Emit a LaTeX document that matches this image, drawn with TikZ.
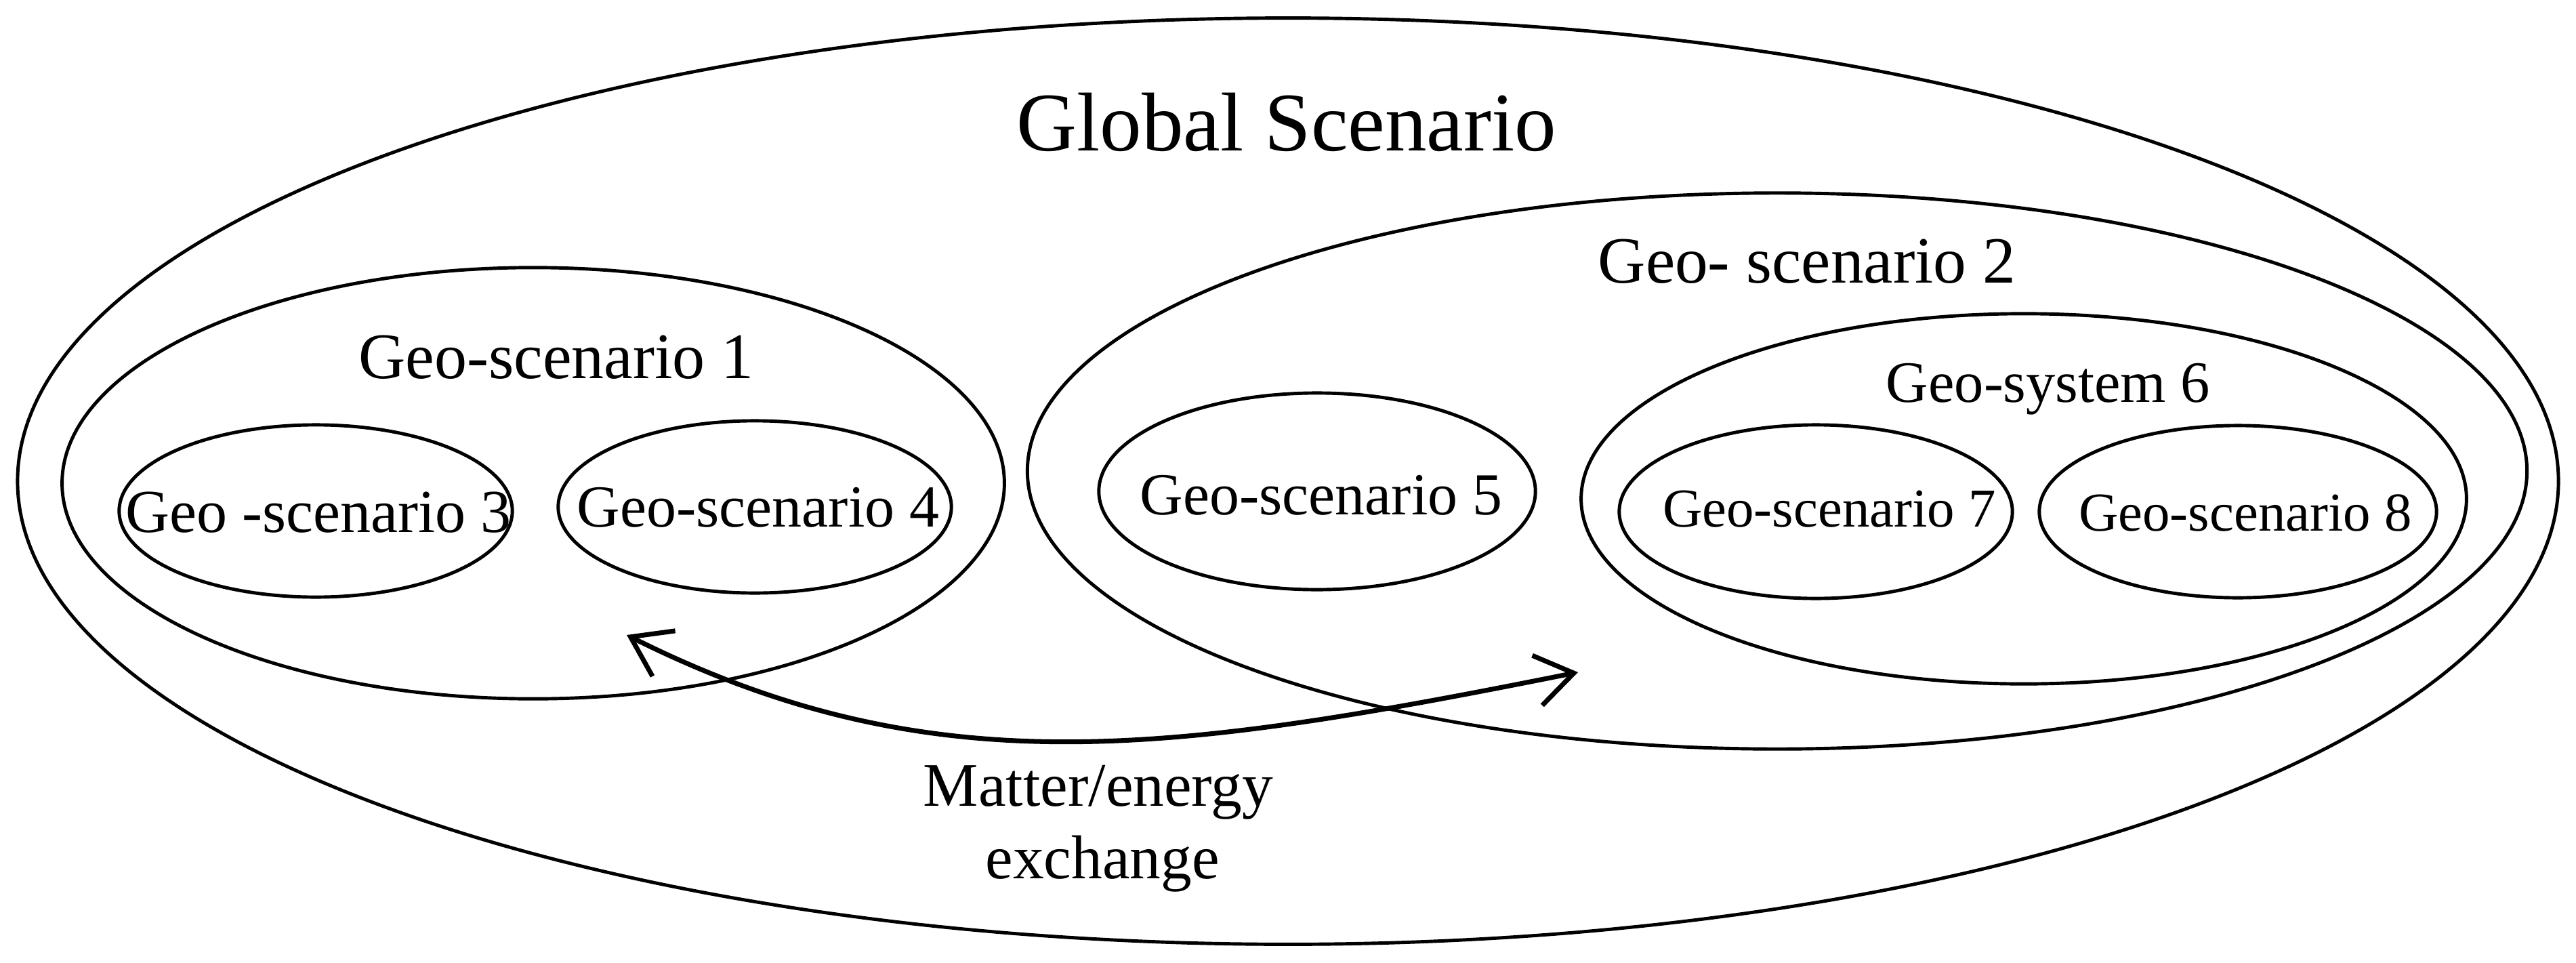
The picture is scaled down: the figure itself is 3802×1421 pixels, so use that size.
\documentclass[tikz,border=0pt]{standalone}
\usepackage{fontspec}
\setmainfont{Liberation Serif}
\usetikzlibrary{shapes.geometric,arrows.meta}
\tikzset{
  ell/.style={draw, ellipse, line width=1.4pt, inner sep=0pt},
  lbl/.style={anchor=base, inner sep=0pt},
  exch/.style={line width=2pt, {Straight Barb[length=0.55cm,width=0.75cm,line width=2pt]}-{Straight Barb[length=0.55cm,width=0.75cm,line width=2pt]}}
}
\newcommand{\fs}[1]{\fontsize{#1}{#1}\selectfont}
\begin{document}
\begin{tikzpicture}[x=0.01cm,y=-0.01cm]
\useasboundingbox (0,0) rectangle (3802,1421);
% ellipses
\node[ell, minimum width=37.48cm, minimum height=13.66cm] (glob) at (1901,710) {};
\node[ell, minimum width=13.9cm, minimum height=6.36cm] (gs1) at (787,713) {};
\node[ell, minimum width=22.12cm, minimum height=8.2cm] (gs2) at (2623,695) {};
\node[ell, minimum width=5.8cm, minimum height=2.54cm] (gs3) at (466,754) {};
\node[ell, minimum width=5.8cm, minimum height=2.54cm] (gs4) at (1114,748) {};
\node[ell, minimum width=6.44cm, minimum height=2.9cm] (gs5) at (1944,725) {};
\node[ell, minimum width=13.06cm, minimum height=5.46cm] (gs6) at (2987,736) {};
\node[ell, minimum width=5.8cm, minimum height=2.56cm] (gs7) at (2680,755) {};
\node[ell, minimum width=5.86cm, minimum height=2.54cm] (gs8) at (3303,755) {};
% labels
\node[lbl, font=\fs{35}] (tglob) at (1899,222) {Global Scenario};
\node[lbl, font=\fs{27.3}] (t1) at (821,558) {Geo-scenario 1};
\node[lbl, font=\fs{27.7}] (t2) at (2667,417) {Geo- scenario 2};
\node[lbl, font=\fs{25.6}] (t3) at (470,785) {Geo -scenario 3};
\node[lbl, font=\fs{25}] (t4) at (1119,777) {Geo-scenario 4};
\node[lbl, font=\fs{25}] (t5) at (1950,759) {Geo-scenario 5};
\node[lbl, font=\fs{24.6}] (t6) at (3023,593) {Geo-system 6};
\node[lbl, font=\fs{23}] (t7) at (2700,777) {Geo-scenario 7};
\node[lbl, font=\fs{23}] (t8) at (3314,783) {Geo-scenario 8};
\node[lbl, font=\fs{26}] (me1) at (1621,1189) {Matter/energy};
\node[lbl, font=\fs{26}] (me2) at (1627,1296) {exchange};
% exchange arrow
\coordinate (a1) at (925,937);
\coordinate (a2) at (2329,992);
\draw[exch] (a1) .. controls (1375,1162) and (1729,1112) .. (a2);
\end{tikzpicture}
\end{document}
